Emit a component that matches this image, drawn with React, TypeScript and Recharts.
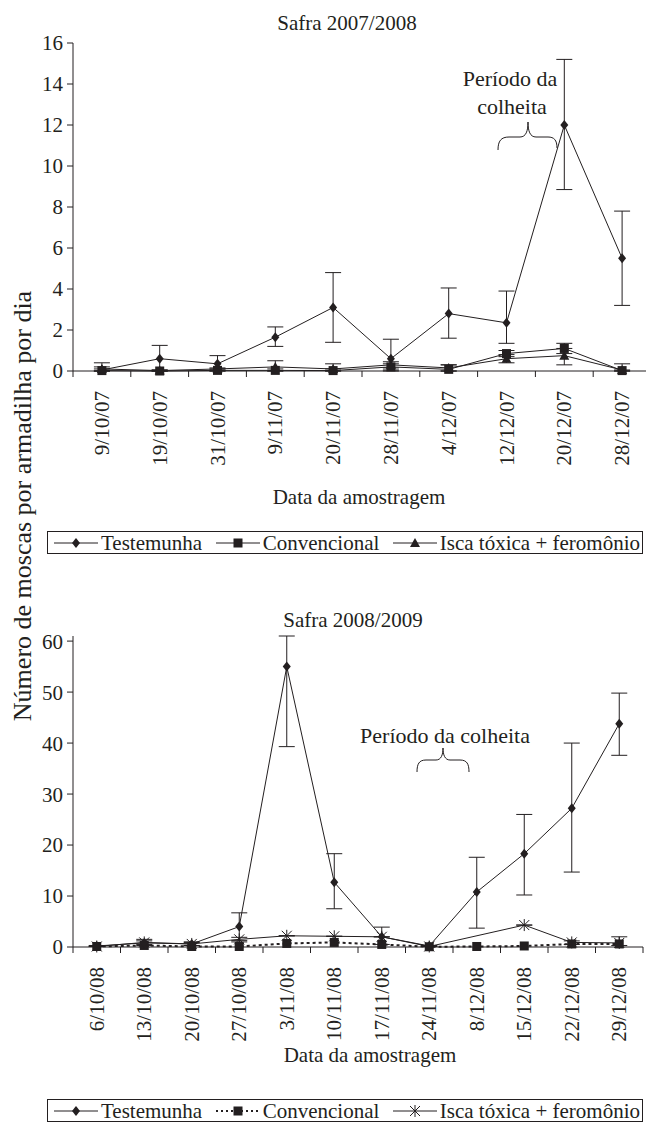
import React from "react";
import { LineChart, Line, XAxis, YAxis, ErrorBar } from "recharts";

const FONT = "'Liberation Serif', Tinos, 'DejaVu Serif', serif";
const INK = "#231f20";

// Safra 2007/2008
const dates0708 = ["9/10/07", "19/10/07", "31/10/07", "9/11/07", "20/11/07", "28/11/07", "4/12/07", "12/12/07", "20/12/07", "28/12/07"];
const testemunha0708 = [0.05, 0.6, 0.35, 1.65, 3.1, 0.6, 2.8, 2.35, 12.0, 5.5];
const testemunhaLow0708 = [0, 0, 0, 1.2, 1.4, 0, 1.6, 1.35, 8.85, 3.2];
const testemunhaHigh0708 = [0.4, 1.25, 0.75, 2.15, 4.8, 1.55, 4.05, 3.9, 15.2, 7.8];
const convencional0708 = [0.02, 0.0, 0.03, 0.03, 0.02, 0.2, 0.08, 0.85, 1.1, 0.02];
const convencionalLow0708 = [0, 0, 0, 0, 0, 0.05, 0, 0.7, 0.85, 0];
const convencionalHigh0708 = [0.1, 0.05, 0.1, 0.1, 0.1, 0.35, 0.3, 1.0, 1.35, 0.05];
const isca0708 = [0.1, 0.02, 0.1, 0.2, 0.1, 0.3, 0.15, 0.6, 0.75, 0.05];
const iscaLow0708 = [0, 0, 0.05, 0, 0, 0.15, 0, 0.4, 0.3, 0];
const iscaHigh0708 = [0.2, 0.05, 0.15, 0.5, 0.35, 0.45, 0.3, 0.8, 1.1, 0.35];
const yTicks0708 = [0, 2, 4, 6, 8, 10, 12, 14, 16];

// Safra 2008/2009
const dates0809 = ["6/10/08", "13/10/08", "20/10/08", "27/10/08", "3/11/08", "10/11/08", "17/11/08", "24/11/08", "8/12/08", "15/12/08", "22/12/08", "29/12/08"];
const testemunha0809 = [0.2, 0.8, 0.6, 4.0, 55, 12.7, 2.0, 0.2, 10.8, 18.3, 27.2, 43.8];
const testemunhaLow0809 = [0.2, 0.3, 0.3, 1.3, 39.3, 7.5, 0.5, 0.2, 3.7, 10.2, 14.7, 37.6];
const testemunhaHigh0809 = [0.3, 1.5, 1.0, 6.7, 61, 18.3, 3.9, 0.3, 17.6, 26, 40, 49.8];
const convencional0809 = [0.1, 0.3, 0.1, 0.1, 0.7, 0.9, 0.5, 0.05, 0.1, 0.2, 0.6, 0.6];
const isca0809 = [0.1, 0.9, 0.6, 1.5, 2.2, 2.1, 2.0, 0.1, null, 4.3, 0.9, 0.8];
const iscaLow0809 = [0.1, 0.5, 0.3, 1.0, 2.2, 2.1, 2.0, 0.1, null, 4.3, 0.5, 0.3];
const iscaHigh0809 = [0.1, 1.2, 0.9, 1.9, 2.2, 2.1, 2.0, 0.1, null, 4.3, 1.2, 2.0];
const yTicks0809 = [0, 10, 20, 30, 40, 50, 60];

const band = (lo: any[], v: any[], hi: any[], i: number) =>
  v[i] == null ? undefined : [v[i] - lo[i], hi[i] - v[i]];

const data0708 = dates0708.map((d, i) => ({
  date: d,
  testemunha: testemunha0708[i],
  testemunhaErr: band(testemunhaLow0708, testemunha0708, testemunhaHigh0708, i),
  convencional: convencional0708[i],
  convencionalErr: band(convencionalLow0708, convencional0708, convencionalHigh0708, i),
  isca: isca0708[i],
  iscaErr: band(iscaLow0708, isca0708, iscaHigh0708, i),
}));

const data0809 = dates0809.map((d, i) => ({
  date: d,
  testemunha: testemunha0809[i],
  testemunhaErr: band(testemunhaLow0809, testemunha0809, testemunhaHigh0809, i),
  convencional: convencional0809[i],
  isca: isca0809[i],
  iscaErr: band(iscaLow0809, isca0809, iscaHigh0809, i),
}));

// markers
const diamond = (p: any) => {
  if (p.cx == null || p.cy == null) return <g key={`dm${p.index}`} />;
  return <path key={`dm${p.index}`} d={`M${p.cx},${p.cy - 5}L${p.cx + 4},${p.cy}L${p.cx},${p.cy + 5}L${p.cx - 4},${p.cy}Z`} fill={INK} />;
};
const square = (p: any) => {
  if (p.cx == null || p.cy == null) return <g key={`sq${p.index}`} />;
  return <rect key={`sq${p.index}`} x={p.cx - 4.5} y={p.cy - 4.5} width={9} height={9} fill={INK} />;
};
const triangle = (p: any) => {
  if (p.cx == null || p.cy == null) return <g key={`tr${p.index}`} />;
  return <path key={`tr${p.index}`} d={`M${p.cx},${p.cy - 5}L${p.cx + 5},${p.cy + 4}L${p.cx - 5},${p.cy + 4}Z`} fill={INK} />;
};
const asterisk = (p: any) => {
  if (p.cx == null || p.cy == null) return <g key={`as${p.index}`} />;
  const { cx, cy } = p;
  return (
    <g key={`as${p.index}`} stroke={INK} strokeWidth={1}>
      <line x1={cx - 5} y1={cy - 5} x2={cx + 5} y2={cy + 5} />
      <line x1={cx - 5} y1={cy + 5} x2={cx + 5} y2={cy - 5} />
      <line x1={cx} y1={cy - 6} x2={cx} y2={cy + 6} />
    </g>
  );
};

function dateTick(step: number, count: number) {
  return (props: any) => {
    const { x, y, payload, index } = props;
    return (
      <g>
        <line x1={x - step / 2} x2={x - step / 2} y1={y} y2={y + 6} stroke={INK} />
        {index === count - 1 && <line x1={x + step / 2} x2={x + step / 2} y1={y} y2={y + 6} stroke={INK} />}
        <text
          x={x}
          y={y + 20}
          transform={`rotate(-90, ${x}, ${y + 20})`}
          textAnchor="end"
          dominantBaseline="central"
          fontSize={21}
          style={{ fontFamily: FONT }}
          fill={INK}
        >
          {payload.value}
        </text>
      </g>
    );
  };
}

const yTickStyle = { fontSize: 21, fontFamily: FONT, fill: INK };

function LegendSwatch({ marker, dotted }: { marker: string; dotted?: boolean }) {
  return (
    <svg width={44} height={14} style={{ display: "block", marginRight: 3 }}>
      <line x1={0} x2={44} y1={7} y2={7} stroke={INK} strokeWidth={dotted ? 2 : 1} strokeDasharray={dotted ? "2 3" : undefined} />
      {marker === "diamond" && diamond({ cx: 22, cy: 7, index: 0 })}
      {marker === "square" && square({ cx: 22, cy: 7, index: 0 })}
      {marker === "triangle" && triangle({ cx: 22, cy: 7, index: 0 })}
      {marker === "asterisk" && asterisk({ cx: 22, cy: 7, index: 0 })}
    </svg>
  );
}

function LegendBox({ top, third, dotted }: { top: number; third: string; dotted?: boolean }) {
  const item = { display: "flex", alignItems: "center" } as const;
  return (
    <div
      style={{
        position: "absolute",
        left: 47,
        top,
        width: 596,
        height: 23,
        border: `1.5px solid ${INK}`,
        display: "flex",
        alignItems: "center",
        justifyContent: "space-between",
        padding: "0 2px 0 6px",
        boxSizing: "border-box",
        fontFamily: FONT,
        fontSize: 21,
        color: INK,
        lineHeight: "20px",
      }}
    >
      <div style={item}><LegendSwatch marker="diamond" />Testemunha</div>
      <div style={item}><LegendSwatch marker="square" dotted={dotted} />Convencional</div>
      <div style={item}><LegendSwatch marker={third} />Isca tóxica + feromônio</div>
    </div>
  );
}

export default function App() {
  const label = { fill: INK, style: { fontFamily: FONT } };
  return (
    <div style={{ position: "absolute", left: 0, top: 0, width: 646, height: 1129, overflow: "hidden", background: "#fff", fontFamily: FONT }}>
      <div style={{ position: "absolute", left: 0, top: 0 }}>
        <LineChart width={660} height={480} data={data0708} margin={{ top: 43, right: 9, bottom: 0, left: 0 }}>
          <XAxis
            dataKey="date"
            height={109}
            interval={0}
            padding={{ left: 28.9, right: 28.9 }}
            tickLine={false}
            tickSize={0}
            tickMargin={0}
            axisLine={{ stroke: INK }}
            tick={dateTick(57.8, dates0708.length)}
          />
          <YAxis
            width={73}
            domain={[0, 16]}
            ticks={yTicks0708}
            interval={0}
            tickSize={6}
            tickMargin={4}
            tickLine={{ stroke: INK }}
            axisLine={{ stroke: INK }}
            tick={yTickStyle}
          />
          <Line dataKey="isca" stroke={INK} strokeWidth={1} dot={triangle} isAnimationActive={false}>
            <ErrorBar dataKey="iscaErr" width={8} stroke={INK} strokeWidth={1} direction="y" />
          </Line>
          <Line dataKey="convencional" stroke={INK} strokeWidth={1} dot={square} isAnimationActive={false}>
            <ErrorBar dataKey="convencionalErr" width={8} stroke={INK} strokeWidth={1} direction="y" />
          </Line>
          <Line dataKey="testemunha" stroke={INK} strokeWidth={1} dot={diamond} isAnimationActive={false}>
            <ErrorBar dataKey="testemunhaErr" width={8} stroke={INK} strokeWidth={1} direction="y" />
          </Line>
        </LineChart>
      </div>

      <div style={{ position: "absolute", left: 0, top: 560 }}>
        <LineChart width={660} height={500} data={data0809} margin={{ top: 76, right: 17, bottom: 0, left: 0 }}>
          <XAxis
            dataKey="date"
            height={113}
            interval={0}
            padding={{ left: 23.75, right: 23.75 }}
            tickLine={false}
            tickSize={0}
            tickMargin={0}
            axisLine={{ stroke: INK }}
            tick={dateTick(47.5, dates0809.length)}
          />
          <YAxis
            width={73}
            domain={[0, 60]}
            ticks={yTicks0809}
            interval={0}
            tickSize={6}
            tickMargin={4}
            tickLine={{ stroke: INK }}
            axisLine={{ stroke: INK }}
            tick={yTickStyle}
          />
          <Line dataKey="convencional" stroke={INK} strokeWidth={2} strokeDasharray="3 3" dot={square} isAnimationActive={false} />
          <Line dataKey="isca" stroke={INK} strokeWidth={1} dot={asterisk} connectNulls isAnimationActive={false}>
            <ErrorBar dataKey="iscaErr" width={8} stroke={INK} strokeWidth={1} direction="y" />
          </Line>
          <Line dataKey="testemunha" stroke={INK} strokeWidth={1} dot={diamond} isAnimationActive={false}>
            <ErrorBar dataKey="testemunhaErr" width={8} stroke={INK} strokeWidth={1} direction="y" />
          </Line>
        </LineChart>
      </div>

      <svg width={646} height={1129} style={{ position: "absolute", left: 0, top: 0, pointerEvents: "none" }}>
        <text x={347} y={23} textAnchor="middle" dominantBaseline="central" fontSize={21} {...label}>Safra 2007/2008</text>
        <text x={510} y={78} textAnchor="middle" dominantBaseline="central" fontSize={22} {...label}>Período da</text>
        <text x={512} y={106} textAnchor="middle" dominantBaseline="central" fontSize={22} {...label}>colheita</text>
        <path d="M498,150 C498,141 501,137 509,137 L520,137 C526,137 528,131 528,122 C528,131 530,137 536,137 L548,137 C554,137 557,140 557,148" fill="none" stroke={INK} strokeWidth={1} />
        <text x={359} y={497} textAnchor="middle" dominantBaseline="central" fontSize={21} {...label}>Data da amostragem</text>

        <text x={22} y={506} transform="rotate(-90, 22, 506)" textAnchor="middle" dominantBaseline="central" fontSize={26} {...label}>
          Número de moscas por armadilha por dia
        </text>

        <text x={353} y={620} textAnchor="middle" dominantBaseline="central" fontSize={21} {...label}>Safra 2008/2009</text>
        <text x={445} y={735} textAnchor="middle" dominantBaseline="central" fontSize={22} {...label}>Período da colheita</text>
        <path d="M417,772 C417,764 419,760 426,760 L436,760 C441,760 443,755 443,748 C443,755 445,760 450,760 L460,760 C467,760 469,764 469,772" fill="none" stroke={INK} strokeWidth={1} />
        <text x={370} y={1055} textAnchor="middle" dominantBaseline="central" fontSize={21} {...label}>Data da amostragem</text>
      </svg>

      <LegendBox top={531} third="triangle" />
      <LegendBox top={1099} third="asterisk" dotted />
    </div>
  );
}
